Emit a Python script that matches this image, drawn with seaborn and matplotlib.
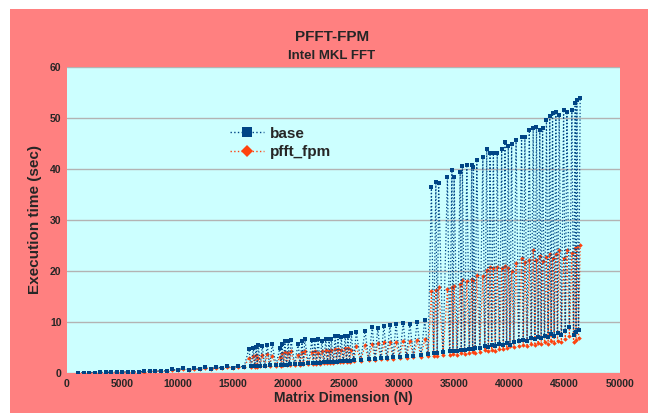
import pandas as pd
import seaborn as sns
import matplotlib.pyplot as plt
from matplotlib.patches import Rectangle
from matplotlib.lines import Line2D

# spike tops (x = matrix dimension N, execution times in sec)
spike_n = [16450, 16850, 17100, 17300, 17650, 18100, 18550, 19250, 19450, 19700,
           20000, 20250, 20900, 21250, 21500, 22150, 22400, 22700, 23050, 23400,
           23700, 23900, 24250, 24500, 24800, 25150, 25400, 25700, 26150, 26950,
           27600, 28100, 28650, 29200, 29750, 30400, 31000, 31650, 32350,
           32950, 33350, 33600, 34400, 34800, 35000, 35550, 35750, 36150, 36600,
           36750, 37050, 37600, 37950, 38250, 38550, 38900, 39300, 39600, 39900,
           40200, 40600, 41100, 41400, 41800, 42150, 42450, 42750, 43000, 43350,
           43650, 43900, 44200, 44500, 44900, 45200, 45650, 45950, 46100, 46400]
spike_base = [4.7, 4.9, 5.1, 5.5, 5.3, 5.5, 5.6, 5.0, 5.6, 6.3,
              6.2, 6.5, 5.7, 6.3, 6.6, 6.4, 6.5, 6.6, 6.3, 6.7,
              6.6, 6.7, 7.3, 7.2, 7.0, 7.3, 7.3, 7.8, 8.0, 8.2,
              9.0, 8.8, 9.2, 9.4, 9.6, 9.8, 9.7, 10.0, 10.4,
              36.5, 37.5, 37.3, 38.5, 39.8, 38.5, 39.5, 40.5, 40.8, 40.8,
              40.4, 41.8, 42.4, 43.9, 43.1, 43.1, 43.1, 44.0, 45.2, 44.5,
              45.0, 45.7, 46.2, 46.2, 47.6, 48.0, 48.3, 47.6, 48.0, 49.6,
              50.3, 50.9, 51.2, 50.6, 51.6, 51.2, 51.6, 52.9, 53.5, 54.0]
spike_fpm = [3.0, 3.3, 3.5, 3.0, 3.6, 3.8, 3.4, 3.2, 3.9, 4.2,
             4.0, 4.3, 3.6, 4.2, 4.3, 4.1, 4.4, 4.0, 4.3, 4.6,
             4.4, 4.5, 4.8, 4.7, 4.6, 4.9, 5.0, 4.6, 5.2, 5.4,
             5.6, 5.9, 6.0, 6.1, 6.0, 6.3, 6.2, 6.4, 6.6,
             16.0, 16.3, 16.9, 16.5, 16.9, 17.0, 17.5, 18.2, 18.0, 18.5,
             18.2, 19.2, 19.0, 20.2, 20.8, 20.5, 20.8, 20.6, 21.0, 20.6,
             20.0, 21.5, 22.5, 21.8, 22.2, 24.1, 22.2, 23.0, 22.0, 22.8,
             23.4, 22.6, 23.4, 24.1, 22.5, 24.1, 23.5, 24.5, 24.8, 25.1]

# low points (small sizes and the floor between the spikes)
low_n = [1000, 1500, 2000, 2500, 3000, 3500, 4000, 4500, 5000, 5500,
         6000, 6500, 7000, 7500, 8000, 8500, 9000, 9500, 10000, 10500,
         11000, 11500, 12000, 12500, 13000, 13500, 14000, 14500, 15000, 15500,
         16000,
         16650, 16975, 17200, 17475, 17875, 18325, 18900, 19350, 19575, 19850,
         20125, 20575, 21075, 21375, 21825, 22275, 22550, 22875, 23225, 23550,
         23800, 24075, 24375, 24650, 24975, 25275, 25550, 25925, 26550, 27275,
         27850, 28375, 28925, 29475, 30075, 30700, 31325, 32000, 32650,
         33150, 33475, 34000, 34600, 34900, 35275, 35650, 35950, 36375, 36675,
         36900, 37325, 37775, 38100, 38400, 38725, 39100, 39450, 39750, 40050,
         40400, 40850, 41250, 41600, 41975, 42300, 42600, 42875, 43175, 43500,
         43775, 44050, 44350, 44700, 45050, 45425, 45800, 46025, 46250]
low_base = [0.05, 0.06, 0.07, 0.08, 0.1, 0.12, 0.14, 0.16, 0.18, 0.2,
            0.23, 0.26, 0.3, 0.33, 0.36, 0.4, 0.45, 0.7, 0.55, 0.95,
            0.65, 0.9, 0.75, 1.1, 0.85, 1.2, 0.95, 1.3, 1.05, 1.4,
            1.15,
            1.3, 1.3, 1.35, 1.4, 1.4, 1.5, 1.5, 1.6, 1.6, 1.65,
            1.7, 1.75, 1.8, 1.85, 1.9, 1.95, 2.0, 2.0, 2.1, 2.1,
            2.15, 2.2, 2.25, 2.3, 2.3, 2.4, 2.4, 2.5, 2.6, 2.7,
            2.8, 2.9, 3.0, 3.1, 3.2, 3.3, 3.4, 3.6, 3.8,
            4.0, 4.0, 4.2, 4.3, 4.4, 4.4, 4.6, 4.5, 4.7, 4.8,
            4.9, 5.0, 5.3, 5.1, 5.4, 5.2, 5.6, 5.5, 5.8, 5.5,
            6.0, 6.3, 6.5, 6.2, 6.8, 6.6, 7.0, 6.8, 7.3, 7.0,
            7.6, 7.2, 7.8, 7.5, 8.2, 9.0, 7.5, 8.0, 8.4]
low_fpm = [0.05, 0.06, 0.07, 0.08, 0.1, 0.11, 0.13, 0.15, 0.17, 0.19,
           0.22, 0.25, 0.28, 0.31, 0.34, 0.38, 0.42, 0.6, 0.5, 0.8,
           0.6, 0.8, 0.7, 0.95, 0.8, 1.05, 0.9, 1.15, 1.0, 1.2,
           1.1,
           1.2, 1.2, 1.25, 1.3, 1.3, 1.35, 1.4, 1.45, 1.5, 1.5,
           1.55, 1.6, 1.65, 1.7, 1.75, 1.8, 1.85, 1.85, 1.9, 1.95,
           2.0, 2.0, 2.1, 2.1, 2.15, 2.2, 2.2, 2.3, 2.4, 2.5,
           2.55, 2.65, 2.7, 2.8, 2.9, 3.0, 3.1, 3.2, 3.3,
           3.3, 3.4, 3.5, 3.6, 3.7, 3.6, 3.9, 3.8, 4.0, 4.1,
           4.0, 4.2, 4.5, 4.3, 4.6, 4.4, 4.8, 4.7, 5.0, 5.2,
           5.1, 5.3, 5.4, 5.2, 5.6, 5.5, 5.8, 5.6, 6.0, 5.7,
           6.2, 5.9, 6.3, 6.0, 6.6, 7.2, 6.0, 6.5, 6.9]

df = pd.concat([
    pd.DataFrame({'N': spike_n, 'base': spike_base, 'pfft_fpm': spike_fpm}),
    pd.DataFrame({'N': low_n, 'base': low_base, 'pfft_fpm': low_fpm}),
]).sort_values('N').reset_index(drop=True)

base_color = '#004586'
fpm_color = '#ff420e'
salmon = '#ff8080'
plot_bg = '#ccffff'

sns.set_style('white')
plt.rcParams['font.family'] = ['Liberation Sans Narrow', 'Liberation Sans', 'DejaVu Sans']

fig = plt.figure(figsize=(6.54, 4.13), dpi=100, facecolor='white')
fig.patches.append(Rectangle((10 / 654, 0), 638 / 654, 404 / 413,
                             transform=fig.transFigure, facecolor=salmon,
                             edgecolor='none', zorder=-10))
ax = fig.add_axes([67 / 654, 1 - 373 / 413, 553 / 654, 306 / 413])
ax.set_facecolor(plot_bg)

sns.lineplot(data=df, x='N', y='pfft_fpm', ax=ax, color=fpm_color, ls=':', lw=0.9,
             marker='D', markersize=2.3, markeredgewidth=0, estimator=None, sort=True)
sns.lineplot(data=df, x='N', y='base', ax=ax, color=base_color, ls=':', lw=0.9,
             marker='s', markersize=2.8, markeredgewidth=0, estimator=None, sort=True)

ax.set_xlim(0, 50000)
ax.set_ylim(0, 60)
ax.set_xticks(range(0, 50001, 5000))
ax.set_yticks(range(0, 61, 10))
ax.yaxis.grid(True, color='#b3b3b3', lw=1)
ax.xaxis.grid(False)
ax.set_axisbelow(True)
for s in ax.spines.values():
    s.set_visible(False)
ax.tick_params(length=0, labelsize=7.5, pad=4)
for lab in ax.get_xticklabels() + ax.get_yticklabels():
    lab.set_fontweight('bold')

ax.set_xlabel('Matrix Dimension (N)', fontsize=10, fontweight='bold', labelpad=2)
ax.set_ylabel('Execution time (sec)', fontsize=11, fontweight='bold', labelpad=6)

fig.text(0.507, 1 - 37 / 413, 'PFFT-FPM', ha='center', va='center',
         fontsize=11, fontweight='bold')
fig.text(0.507, 1 - 56 / 413, 'Intel MKL FFT', ha='center', va='center',
         fontsize=9.5, fontweight='bold')

handles = [
    Line2D([], [], color=base_color, ls=':', lw=1, marker='s', markersize=7, markeredgewidth=0),
    Line2D([], [], color=fpm_color, ls=':', lw=1, marker='D', markersize=6, markeredgewidth=0),
]
leg = ax.legend(handles, ['base', 'pfft_fpm'], loc='upper left',
                bbox_to_anchor=(0.27, 0.85), frameon=False,
                prop={'weight': 'bold', 'size': 11}, handlelength=2.2,
                handletextpad=0.4, labelspacing=0.3)

fig.savefig('out.png', dpi=100, facecolor=fig.get_facecolor())
